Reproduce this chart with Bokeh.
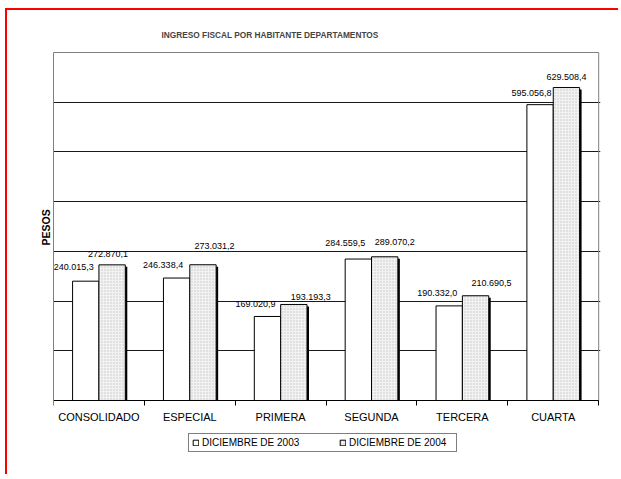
from bokeh.plotting import figure
from bokeh.models import ColumnDataSource, Range1d, FixedTicker, Legend, LegendItem, Title
from bokeh.transform import dodge
from bokeh.core.properties import value
from bokeh.embed import file_html
from bokeh.resources import INLINE

# ---------------- data ----------------
categories = ["CONSOLIDADO", "ESPECIAL", "PRIMERA", "SEGUNDA", "TERCERA", "CUARTA"]
dic2003 = [240015.3, 246338.4, 169020.9, 284559.5, 190332.0, 595056.8]
dic2004 = [272870.1, 273031.2, 193193.3, 289070.2, 210690.5, 629508.4]
series_names = ["DICIEMBRE DE 2003", "DICIEMBRE DE 2004"]
y_ticks = [0, 100000, 200000, 300000, 400000, 500000, 600000, 700000]
title_text = "INGRESO FISCAL POR HABITANTE DEPARTAMENTOS"
y_label = "PESOS"

# ---------------- label placement (styles, in screen px) ----------------
off03_x = [-12, -13.5, -12, -13, -12, -8.5]
off03_y = [-14, -13, -12, -16.5, -12.7, -12]
off04_x = [-4, 11.5, 17, 10, 16, 0]
off04_y = [-11, -19, -7, -15, -13, -11]

FONT = "Liberation Sans"
BAR_W = 0.29
HALF = BAR_W / 2
SHADOW_DX = 0.022
SHADOW_DY = 4000

# frame geometry (px): plot area 348 px tall, frame extends below it to hold the legend
PLOT_H_PX = 348
TOP_PAD_PX = 2
BOTTOM_EXT_PX = 52
X_PAD = 0.02


def fmt(v):
    s = f"{v:,.1f}"
    return s.replace(",", "X").replace(".", ",").replace("X", ".")


n = len(categories)
ymax = y_ticks[-1]
src = ColumnDataSource(dict(
    x=[i + 0.5 for i in range(n)],
    v03=dic2003,
    v04=dic2004,
    shadow04=[v - SHADOW_DY for v in dic2004],
    lab03=[fmt(v) for v in dic2003],
    lab04=[fmt(v) for v in dic2004],
    ox03=off03_x, oy03=off03_y,
    ox04=off04_x, oy04=off04_y,
))

p = figure(width=613, height=466,
           x_range=Range1d(0, n + X_PAD),
           y_range=Range1d(-ymax * BOTTOM_EXT_PX / PLOT_H_PX, ymax * (1 + TOP_PAD_PX / PLOT_H_PX)),
           output_backend="svg", toolbar_location=None,
           min_border_left=46, min_border_right=20,
           min_border_top=40, min_border_bottom=24)

p.styles = {"border-left": "2px solid red", "border-top": "2px solid red",
            "margin-left": "5px", "margin-top": "8px"}
p.background_fill_color = "white"
p.border_fill_color = "white"
p.outline_line_color = None

# title
p.title.text = title_text
p.title.text_font = FONT
p.title.text_font_size = "8.3px"
p.title.text_font_style = "bold"
p.title.align = "left"
p.title.offset = 108
p.title.standoff = 21

# vertical axis title (placed against the plot area, not the extended frame)
y_title = Title(text=y_label, align="left", offset=207, standoff=4,
                text_font=FONT, text_font_size="10.5px", text_font_style="bold",
                text_color="black")
p.add_layout(y_title, "left")

# x axis (at y = 0 inside the extended frame)
xa = p.xaxis[0]
xa.fixed_location = 0
xa.bounds = (0, n)
xa.ticker = FixedTicker(ticks=[i + 0.5 for i in range(n)], minor_ticks=list(range(n + 1)))
xa.major_label_overrides = {i + 0.5: c for i, c in enumerate(categories)}
xa.major_tick_line_color = None
xa.major_tick_out = 5
xa.major_tick_in = 0
xa.minor_tick_line_color = "black"
xa.minor_tick_out = 5
xa.minor_tick_in = 0
xa.axis_line_color = "black"
xa.major_label_text_font = FONT
xa.major_label_text_font_size = "11px"
xa.major_label_text_color = "black"
xa.major_label_standoff = 5

# y axis (line only)
ya = p.yaxis[0]
ya.bounds = (y_ticks[0], ymax)
ya.ticker = FixedTicker(ticks=y_ticks)
ya.major_label_overrides = {t: "" for t in y_ticks}
ya.major_tick_line_color = None
ya.minor_tick_line_color = None
ya.major_tick_out = 0
ya.major_tick_in = 0
ya.major_label_standoff = 0
ya.axis_line_color = "#808080"

p.xgrid.grid_line_color = None
p.ygrid.ticker = FixedTicker(ticks=y_ticks[1:-1])
p.ygrid.grid_line_color = "#1a1a1a"
p.ygrid.grid_line_width = 1

# plot-area border
p.quad(left=[0], right=[n], bottom=[y_ticks[0]], top=[ymax],
       fill_color=None, line_color="#808080", line_width=1)

# bars
r03 = p.vbar(x=dodge("x", -HALF), top="v03", width=BAR_W, source=src,
             fill_color="white", line_color="black", line_width=1)
p.vbar(x=dodge("x", HALF + SHADOW_DX), top="shadow04", width=BAR_W, source=src,
       fill_color="black", line_color=None)
r04 = p.vbar(x=dodge("x", HALF), top="v04", width=BAR_W, source=src,
             fill_color="#f2f2f2", hatch_pattern="dot", hatch_color="#c4c4c4",
             hatch_scale=3, hatch_weight=1, line_color="black", line_width=1)

# value labels
p.text(x=dodge("x", -HALF), y="v03", text="lab03", x_offset="ox03", y_offset="oy03",
       source=src, text_font=value(FONT), text_font_size="9px",
       text_align="center", text_baseline="middle", text_color="black")
p.text(x=dodge("x", HALF), y="v04", text="lab04", x_offset="ox04", y_offset="oy04",
       source=src, text_font=value(FONT), text_font_size="9px",
       text_align="center", text_baseline="middle", text_color="black")

# legend (inside the extended frame, below the axis)
legend = Legend(items=[LegendItem(label=series_names[0], renderers=[r03]),
                       LegendItem(label=series_names[1], renderers=[r04])],
                orientation="horizontal", location=(135, 0))
legend.border_line_color = "black"
legend.border_line_width = 1
legend.background_fill_color = "white"
legend.background_fill_alpha = 1
legend.padding = 3
legend.margin = 0
legend.spacing = 33
legend.label_standoff = 3
legend.glyph_width = 7
legend.glyph_height = 7
legend.label_height = 10
legend.label_width = 104
legend.label_text_font = FONT
legend.label_text_font_size = "10px"
legend.label_text_color = "black"
p.add_layout(legend, "center")

open("out.html", "w").write(file_html(p, INLINE))
